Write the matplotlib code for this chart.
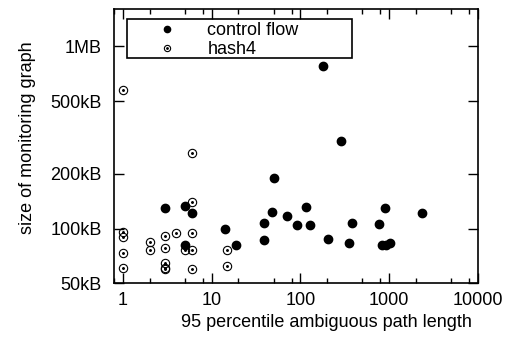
import matplotlib
matplotlib.use('Agg')
import matplotlib.pyplot as plt
from matplotlib.lines import Line2D
from matplotlib.patches import Rectangle
from matplotlib.ticker import FixedLocator, LogLocator, NullFormatter, NullLocator
import numpy as np

plt.rcParams['font.family'] = ['Liberation Sans', 'DejaVu Sans']

# 95 percentile ambiguous path length vs. monitoring graph size (kB)
cf_x = [3, 5, 6, 5, 14, 19, 38.5, 38.5, 47.7, 50.3, 71.5, 91.6, 114.6, 127,
        178, 204, 285, 351, 383, 774, 904, 830, 935, 1020, 2333]
cf_y = [130, 133, 122, 81.4, 99, 81.4, 107, 86.3, 124, 189, 117, 105, 132, 105,
        777, 87.4, 302, 83.1, 108, 106.5, 130, 81, 81, 83.1, 122]

h4_x = [1, 6, 6, 1, 1, 1, 1, 2, 2, 3, 3, 3, 3, 3, 4, 5, 6, 6, 6, 15, 15]
h4_y = [574, 259, 140, 96, 89.6, 73.6, 60.9, 84.1, 76.7, 91.5, 78, 64.9, 61, 60,
        94.7, 76, 94.7, 76.7, 60.4, 76.7, 62.7]

y_ticks = [50, 100, 200, 500, 1000]
y_labels = ['50kB', '100kB', '200kB', '500kB', '1MB']
x_ticks = [1, 10, 100, 1000, 10000]
x_labels = ['1', '10', '100', '1000', '10000']

fs = 13

fig = plt.figure(figsize=(5.14, 3.43), dpi=100)
ax = fig.add_axes([0.2224, 0.1735, 0.707, 0.7994])

ax.plot(cf_x, cf_y, 'o', color='black', markersize=6, linestyle='none')
ax.plot(h4_x, h4_y, 'o', mfc='none', mec='black', mew=0.8, markersize=6, linestyle='none')
ax.plot(h4_x, h4_y, 'o', color='black', markersize=1.1, linestyle='none')

ax.set_xscale('log')
ax.set_yscale('log')
ax.set_xlim(0.8, 10000)
ax.set_ylim(50, 1600)

ax.xaxis.set_major_locator(FixedLocator(x_ticks))
ax.set_xticklabels(x_labels)
ax.xaxis.set_minor_locator(LogLocator(base=10, subs=(2, 5, 8)))
ax.xaxis.set_minor_formatter(NullFormatter())
ax.yaxis.set_major_locator(FixedLocator(y_ticks))
ax.set_yticklabels(y_labels)
ax.yaxis.set_minor_locator(NullLocator())

ax.tick_params(which='both', direction='in', top=True, right=True, width=1, labelsize=fs)
ax.tick_params(which='major', length=7)
ax.tick_params(which='minor', length=3.5)
ax.tick_params(axis='y', pad=9)
ax.tick_params(axis='x', pad=6)
for s in ax.spines.values():
    s.set_linewidth(1.2)

ax.set_xlabel('95 percentile ambiguous path length', fontsize=fs)
ax.xaxis.set_label_coords(0.585, -0.112)
ax.set_ylabel('size of monitoring graph', fontsize=fs)
ax.yaxis.set_label_coords(-0.2155, 0.532)

# legend with a hand drawn frame
h_cf = Line2D([], [], marker='o', color='black', markersize=4.5, linestyle='none')
h_ring = Line2D([], [], marker='o', mfc='none', mec='black', mew=0.8, markersize=4.5, linestyle='none')
h_dot = Line2D([], [], marker='o', color='black', markersize=1, linestyle='none')
ax.legend([h_cf, (h_ring, h_dot)], ['control flow', 'hash4'], loc='upper left',
          bbox_to_anchor=(0.0944, 0.952), frameon=False, fontsize=fs,
          borderpad=0, borderaxespad=0, handlelength=2, handletextpad=1.25,
          labelspacing=0.08)
ax.add_patch(Rectangle((0.0341, 0.8235), 0.6208, 0.1422, transform=ax.transAxes,
                       fill=False, edgecolor='black', linewidth=1.2, zorder=5))

fig.savefig('out.png', dpi=100)
